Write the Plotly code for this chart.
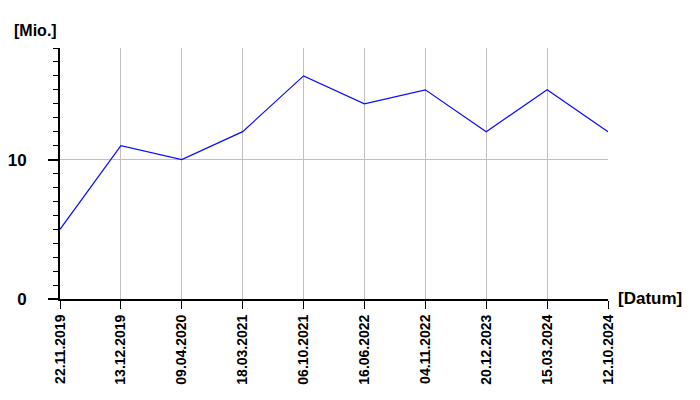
import plotly.graph_objects as go

dates = ["22.11.2019", "13.12.2019", "09.04.2020", "18.03.2021", "06.10.2021",
         "16.06.2022", "04.11.2022", "20.12.2023", "15.03.2024", "12.10.2024"]
values = [5, 11, 10, 12, 16, 14, 15, 12, 15, 12]
y_ticks = [0, 10]
y_label = "[Mio.]"
x_label = "[Datum]"

idx = list(range(len(dates)))

fig = go.Figure()
fig.add_trace(go.Scatter(x=idx, y=values, mode="lines",
                         line=dict(color="#0a0aff", width=1.2), hoverinfo="skip"))

font = "Liberation Sans, Arial, sans-serif"
fig.update_layout(
    width=692, height=392,
    margin=dict(l=52, r=92, t=40, b=101),
    paper_bgcolor="white", plot_bgcolor="white",
    showlegend=False,
    font=dict(family=font, color="black"),
    xaxis=dict(
        range=[0, len(dates) - 1], tickmode="array", tickvals=idx, ticktext=dates,
        tickangle=-90, tickfont=dict(size=14, family=font, color="black", weight="bold"),
        showgrid=True, gridcolor="#c0c0c0", gridwidth=1,
        showline=True, linecolor="black", linewidth=2,
        ticks="outside", ticklen=8, tickwidth=1, tickcolor="black",
        zeroline=False, fixedrange=True, automargin=False,
    ),
    yaxis=dict(
        range=[0, 18], tickmode="array", tickvals=y_ticks,
        tickfont=dict(size=17, family=font, color="black", weight="bold"),
        ticklabelstandoff=18,
        showgrid=True, gridcolor="#c0c0c0", gridwidth=1,
        showline=True, linecolor="black", linewidth=2,
        ticks="outside", ticklen=10, tickwidth=2, tickcolor="black",
        minor=dict(dtick=1, tick0=0, ticks="outside", ticklen=5, tickcolor="black", tickwidth=1, showgrid=False),
        zeroline=False, fixedrange=True, automargin=False,
    ),
    annotations=[
        dict(text=y_label, xref="paper", yref="paper", x=0, y=1, xanchor="left", yanchor="middle",
             xshift=-48, yshift=18, showarrow=False,
             font=dict(size=16, family=font, color="black", weight="bold")),
        dict(text=x_label, xref="paper", yref="paper", x=1, y=0, xanchor="left", yanchor="middle",
             xshift=8, yshift=1, showarrow=False,
             font=dict(size=17, family=font, color="black", weight="bold")),
    ],
)

fig.write_html("out.html")
